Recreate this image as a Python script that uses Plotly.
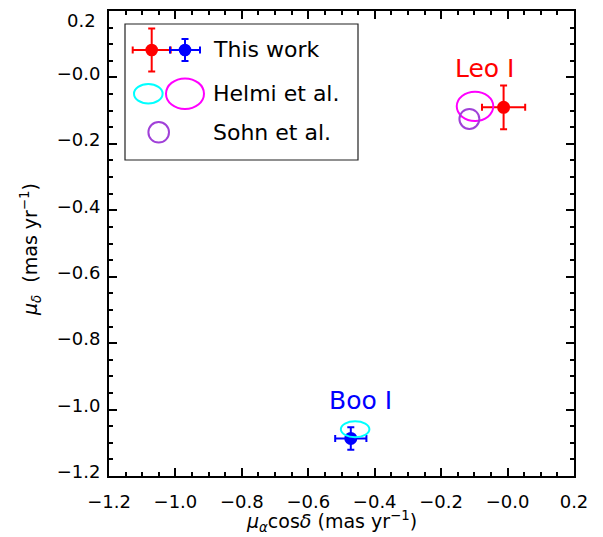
import plotly.graph_objects as go

# ---- data (mas/yr) ----
galaxies = ["Leo I", "Boo I"]
colors_this = ["#FF0000", "#0000FF"]
pm_ra = [-0.012, -0.472]
pm_dec = [-0.090, -1.087]
pm_ra_err = [0.065, 0.047]
pm_dec_err = [0.066, 0.034]

# Helmi et al. ellipses: centre and semi-axes
helmi_names = ["Leo I", "Boo I"]
helmi_ra = [-0.098, -0.459]
helmi_dec = [-0.087, -1.059]
helmi_ra_err = [0.055, 0.043]
helmi_dec_err = [0.044, 0.024]
helmi_colors = ["#FF00FF", "#00FFFF"]

# Sohn et al. circle
sohn_ra = [-0.115]
sohn_dec = [-0.125]
sohn_ra_err = [0.030]
sohn_dec_err = [0.030]
sohn_color = "#A040D8"

label_ra = [-0.067, -0.444]
label_dec = [0.028, -0.972]

tick_vals = [-1.2, -1.0, -0.8, -0.6, -0.4, -0.2, 0.0, 0.2]
x_tick_text = ["\u22121.2", "\u22121.0", "\u22120.8", "\u22120.6", "\u22120.4", "\u22120.2", "\u22120.0", "0.2"]
# top y label is drawn separately (shifted inside the page, as in the original)
y_tick_text = ["\u22121.2", "\u22121.0", "\u22120.8", "\u22120.6", "\u22120.4", "\u22120.2", "\u22120.0", ""]

# page body has an 8px margin, so the figure is shrunk / shifted to compensate
OFF = 8
W, H = 603 - OFF, 537 - OFF
ML, MR, MT, MB = 109 - OFF, 29, 11 - OFF, 61
PW = W - ML - MR
PH = H - MT - MB

def px(x):  # absolute screen pixel -> paper
    return (x - OFF - ML) / PW

def py(y):
    return (H + OFF - MB - y) / PH

FONT = "DejaVu Sans, Liberation Sans, Arial"

fig = go.Figure()

shapes = []
for cx, cy, rx, ry, c in zip(helmi_ra, helmi_dec, helmi_ra_err, helmi_dec_err, helmi_colors):
    shapes.append(dict(type="circle", xref="x", yref="y", x0=cx - rx, x1=cx + rx,
                       y0=cy - ry, y1=cy + ry, line=dict(color=c, width=2)))
for cx, cy, rx, ry in zip(sohn_ra, sohn_dec, sohn_ra_err, sohn_dec_err):
    shapes.append(dict(type="circle", xref="x", yref="y", x0=cx - rx, x1=cx + rx,
                       y0=cy - ry, y1=cy + ry, line=dict(color=sohn_color, width=2)))

for i in range(len(galaxies)):
    fig.add_trace(go.Scatter(
        x=[pm_ra[i]], y=[pm_dec[i]], mode="markers",
        marker=dict(color=colors_this[i], size=13, line=dict(width=0)),
        error_x=dict(type="data", array=[pm_ra_err[i]], color=colors_this[i], thickness=2, width=3.5),
        error_y=dict(type="data", array=[pm_dec_err[i]], color=colors_this[i], thickness=2, width=3.5),
        showlegend=False, hoverinfo="skip"))

annotations = []
for name, lx, ly, c in zip(galaxies, label_ra, label_dec, colors_this):
    annotations.append(dict(x=lx, y=ly, xref="x", yref="y", text=name, showarrow=False,
                            font=dict(family=FONT, size=25, color=c),
                            xanchor="center", yanchor="middle"))

# ---- manual legend (paper coordinates) ----
shapes.append(dict(type="rect", xref="paper", yref="paper", x0=px(125), x1=px(358),
                   y0=py(160), y1=py(24), line=dict(color="#222222", width=1.2),
                   fillcolor="white", layer="below"))

def err_symbol(cx, cy, hx, hy, c, r=6.3, cap=3.5):
    out = []
    out.append(dict(type="line", xref="paper", yref="paper", x0=px(cx - hx), x1=px(cx + hx),
                    y0=py(cy), y1=py(cy), line=dict(color=c, width=2)))
    out.append(dict(type="line", xref="paper", yref="paper", x0=px(cx), x1=px(cx),
                    y0=py(cy - hy), y1=py(cy + hy), line=dict(color=c, width=2)))
    for sx in (-1, 1):
        out.append(dict(type="line", xref="paper", yref="paper", x0=px(cx + sx * hx), x1=px(cx + sx * hx),
                        y0=py(cy - cap), y1=py(cy + cap), line=dict(color=c, width=2)))
    for sy in (-1, 1):
        out.append(dict(type="line", xref="paper", yref="paper", x0=px(cx - cap), x1=px(cx + cap),
                        y0=py(cy + sy * hy), y1=py(cy + sy * hy), line=dict(color=c, width=2)))
    out.append(dict(type="circle", xref="paper", yref="paper", x0=px(cx - r), x1=px(cx + r),
                    y0=py(cy + r), y1=py(cy - r), fillcolor=c, line=dict(color=c, width=0)))
    return out

shapes += err_symbol(151.7, 50, 19, 21.5, colors_this[0])
shapes += err_symbol(185, 50, 15, 11, colors_this[1])

def ell(cx, cy, rx, ry, c):
    return dict(type="circle", xref="paper", yref="paper", x0=px(cx - rx), x1=px(cx + rx),
                y0=py(cy + ry), y1=py(cy - ry), line=dict(color=c, width=2))

shapes.append(ell(148.3, 93.7, 14.3, 9.7, helmi_colors[1]))
shapes.append(ell(185, 93.7, 19, 15.3, helmi_colors[0]))
shapes.append(ell(158.7, 132.3, 10.3, 10.3, sohn_color))

for txt, yy in [("This work", 50), ("Helmi et al.", 93), ("Sohn et al.", 132)]:
    annotations.append(dict(x=px(211), y=py(yy), xref="paper", yref="paper", text=txt,
                            showarrow=False, xanchor="left", yanchor="middle",
                            font=dict(family=FONT, size=22, color="black")))

# top y tick label
annotations.append(dict(x=px(98), y=py(20), xref="paper", yref="paper", text="0.2",
                        showarrow=False, xanchor="right", yanchor="middle",
                        font=dict(family=FONT, size=18, color="black")))

# axis titles as annotations
annotations.append(dict(x=px(331), y=py(521), xref="paper", yref="paper",
                        text="<i>μ</i><sub><i>α</i></sub>cos<i>δ</i> (mas yr<sup>−1</sup>)",
                        showarrow=False, xanchor="center", yanchor="middle",
                        font=dict(family=FONT, size=19, color="black")))
annotations.append(dict(x=px(31), y=py(250), xref="paper", yref="paper",
                        text="<i>μ</i><sub><i>δ</i></sub>  (mas yr<sup>−1</sup>)",
                        showarrow=False, xanchor="center", yanchor="middle", textangle=-90,
                        font=dict(family=FONT, size=19, color="black")))

axis_common = dict(
    showline=True, linecolor="black", linewidth=2, mirror="ticks",
    ticks="inside", ticklen=8, tickwidth=1.5, tickcolor="black",
    showgrid=False, zeroline=False, automargin=False,
    tickvals=tick_vals,
    tickfont=dict(family=FONT, size=18, color="black"),
    minor=dict(ticks="inside", ticklen=4, tickwidth=1.5, tickcolor="black", dtick=0.05, showgrid=False),
)

fig.update_layout(
    width=W, height=H,
    margin=dict(l=ML, r=MR, t=MT, b=MB, autoexpand=False),
    plot_bgcolor="white", paper_bgcolor="white",
    shapes=shapes, annotations=annotations,
    xaxis=dict(range=[-1.2, 0.2], ticklabelstandoff=8, ticktext=x_tick_text, **axis_common),
    yaxis=dict(range=[-1.2, 0.2], ticklabelstandoff=3, ticktext=y_tick_text, ticklabelshift=-4,
               **axis_common),
)

fig.write_html("out.html")
